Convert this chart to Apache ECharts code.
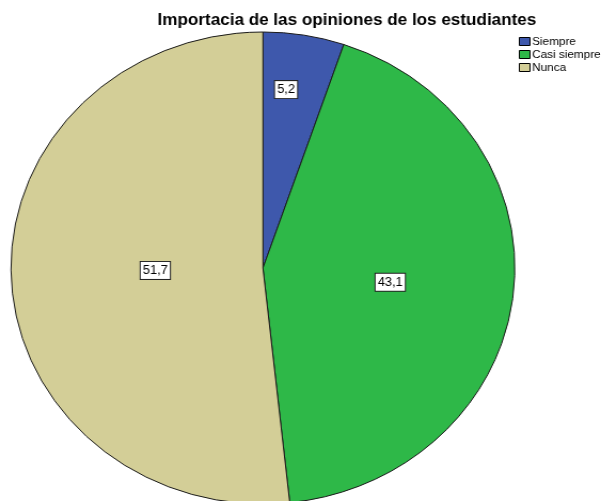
<!DOCTYPE html>
<html>
<head>
<meta charset="utf-8">
<script src="https://cdn.jsdelivr.net/npm/echarts@6/dist/echarts.min.js"></script>
<style>
  html, body { margin: 0; padding: 0; background: #fff; overflow: hidden; }
  /* el grafico original esta estirado en horizontal (elipse), se imita con scaleX */
  #main { width: 563px; height: 501px; transform: scaleX(1.0675); transform-origin: 0 0; }
</style>
</head>
<body>
<div id="main"></div>
<script>
// datos
const categorias = ['Siempre', 'Casi siempre', 'Nunca'];
const porcentajes = [5.2, 43.1, 51.7];
const colores = ['#3E58AC', '#2EB848', '#D3CE97'];

const chart = echarts.init(document.getElementById('main'));

// desplazamiento de cada etiqueta respecto a la posicion 'inside'
const ajusteEtiqueta = [[2, -59], [-1, 1], [20, -4]];

chart.setOption({
  animation: false,
  title: {
    text: 'Importacia de las opiniones de los estudiantes',
    left: 320,
    top: 8,
    textAlign: 'center',
    textStyle: { fontFamily: 'Arial, Liberation Sans', fontSize: 16, fontWeight: 'bold', color: '#000' }
  },
  legend: {
    orient: 'vertical',
    left: 481,
    top: 31,
    itemWidth: 10,
    itemHeight: 8,
    itemGap: 2,
    icon: 'rect',
    data: categorias,
    itemStyle: { borderColor: '#000', borderWidth: 1 },
    textStyle: { fontFamily: 'Arial, Liberation Sans', fontSize: 11, color: '#000', padding: [0, 0, 0, -3] }
  },
  series: [{
    type: 'pie',
    center: [246.3, 268],
    radius: 236,
    startAngle: 90,
    clockwise: true,
    itemStyle: { borderColor: '#1a1a1a', borderWidth: 1 },
    emphasis: { disabled: true },
    label: {
      position: 'inside',
      formatter: p => p.value.toFixed(1).replace('.', ','),
      fontFamily: 'Arial, Liberation Sans',
      fontSize: 12,
      color: '#000',
      backgroundColor: '#fff',
      borderColor: '#222',
      borderWidth: 1,
      padding: [3, 2, 2, 2]
    },
    labelLayout: p => ({ dx: ajusteEtiqueta[p.dataIndex][0], dy: ajusteEtiqueta[p.dataIndex][1] }),
    data: categorias.map((c, i) => ({ name: c, value: porcentajes[i], itemStyle: { color: colores[i] } }))
  }]
});
</script>
</body>
</html>
